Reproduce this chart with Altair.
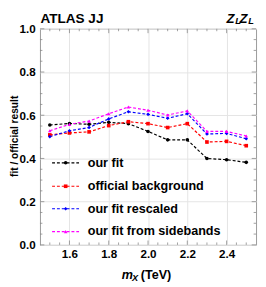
import altair as alt
import pandas as pd

mx = [1.5, 1.6, 1.7, 1.8, 1.9, 2.0, 2.1, 2.2, 2.3, 2.4, 2.5]
our_fit = [0.555, 0.562, 0.558, 0.567, 0.561, 0.525, 0.486, 0.486, 0.400, 0.394, 0.382]
official = [0.509, 0.518, 0.523, 0.552, 0.570, 0.561, 0.543, 0.561, 0.476, 0.479, 0.459]
rescaled = [0.501, 0.528, 0.543, 0.583, 0.616, 0.604, 0.586, 0.607, 0.513, 0.516, 0.491]
sidebands = [0.528, 0.558, 0.573, 0.607, 0.638, 0.623, 0.601, 0.620, 0.525, 0.525, 0.504]

series_names = ["our fit", "official background", "our fit rescaled", "our fit from sidebands"]
series_vals = [our_fit, official, rescaled, sidebands]
colors = ["#000000", "#ff0000", "#0000ff", "#ff00ff"]
shapes = ["circle", "square", "diamond", "triangle-up"]

x_major = [1.6, 1.8, 2.0, 2.2, 2.4]
x_minor = [1.5, 1.55, 1.65, 1.7, 1.75, 1.85, 1.9, 1.95, 2.05, 2.1, 2.15,
           2.25, 2.3, 2.35, 2.45, 2.5]
y_major = [0.0, 0.2, 0.4, 0.6, 0.8, 1.0]
y_minor = [0.05, 0.1, 0.15, 0.25, 0.3, 0.35, 0.45, 0.5, 0.55, 0.65, 0.7, 0.75,
           0.85, 0.9, 0.95]

W, H = 223, 223
FONT = "Liberation Sans"

rows = []
for name, vals in zip(series_names, series_vals):
    for x, v in zip(mx, vals):
        rows.append({"mx": x, "val": v, "series": name})
df = pd.DataFrame(rows)

xscale = alt.Scale(domain=[1.45, 2.55], nice=False, zero=False)
yscale = alt.Scale(domain=[0, 1], nice=False)
cscale = alt.Scale(domain=series_names, range=colors)
sscale = alt.Scale(domain=series_names, range=shapes)

base = alt.Chart(df)
lines = base.mark_line(strokeDash=[3, 2], strokeWidth=1.2).encode(
    x=alt.X("mx:Q", scale=xscale,
            axis=alt.Axis(values=x_major, format=".1f", title=None, grid=True,
                          gridColor="#e4e4e4", ticks=False, domain=False,
                          labelFont=FONT, labelFontWeight="bold", labelFontSize=12,
                          labelColor="black", labelPadding=4)),
    y=alt.Y("val:Q", scale=yscale,
            axis=alt.Axis(values=y_major, format=".1f", title=None, grid=True,
                          gridColor="#e4e4e4", ticks=False, domain=False,
                          labelFont=FONT, labelFontWeight="bold", labelFontSize=12,
                          labelColor="black", labelPadding=5)),
    color=alt.Color("series:N", scale=cscale, legend=None),
    detail="series:N",
)
points = base.mark_point(filled=True, size=14, opacity=1).encode(
    x=alt.X("mx:Q", scale=xscale),
    y=alt.Y("val:Q", scale=yscale),
    color=alt.Color("series:N", scale=cscale, legend=None),
    shape=alt.Shape("series:N", scale=sscale, legend=None),
)

TICK = "#888888"
xt_major = pd.DataFrame({"t": x_major})
xt_minor = pd.DataFrame({"t": x_minor})
yt_major = pd.DataFrame({"t": y_major})
yt_minor = pd.DataFrame({"t": y_minor})

tick_layers = []
for d, ln in [(xt_major, 4.5), (xt_minor, 2.5)]:
    tick_layers.append(alt.Chart(d).mark_rule(color=TICK, strokeWidth=0.8).encode(
        x=alt.X("t:Q", scale=xscale), y=alt.value(H), y2=alt.value(H - ln)))
    tick_layers.append(alt.Chart(d).mark_rule(color=TICK, strokeWidth=0.8).encode(
        x=alt.X("t:Q", scale=xscale), y=alt.value(0), y2=alt.value(ln)))
for d, ln in [(yt_major, 4.5), (yt_minor, 2.5)]:
    tick_layers.append(alt.Chart(d).mark_rule(color=TICK, strokeWidth=0.8).encode(
        y=alt.Y("t:Q", scale=yscale), x=alt.value(0), x2=alt.value(ln)))
    tick_layers.append(alt.Chart(d).mark_rule(color=TICK, strokeWidth=0.8).encode(
        y=alt.Y("t:Q", scale=yscale), x=alt.value(W), x2=alt.value(W - ln)))

one = pd.DataFrame({"k": [0]})

def txt(text, x, y, size, weight="bold", style="normal", align="left", baseline="alphabetic", angle=0):
    kw = dict(text=text, font=FONT, fontSize=size, fontWeight=weight, fontStyle=style,
              align=align, baseline=baseline, color="black")
    if angle:
        kw["angle"] = angle
    return alt.Chart(one).mark_text(**kw).encode(x=alt.value(x), y=alt.value(y))

texts = [
    txt("ATLAS JJ", 0.5, -6.3, 14),
    txt("Z", 192.5, -6.3, 13.5, style="italic"),
    txt("L", 201.5, -4.8, 9.5, style="italic"),
    txt("Z", 206, -6.3, 13.5, style="italic"),
    txt("L", 215, -4.8, 9.5, style="italic"),
    txt("m", 84.5, 258.3, 13, style="italic"),
    txt("X", 95, 260.5, 9.5, style="italic"),
    txt("(TeV)", 104, 258.3, 13),
    txt("fit / official result", -26, 111, 10.5, align="center", baseline="middle", angle=270),
]

legend_layers = []
leg_y = [138.3, 162.5, 185.7, 209.3]
for name, col, shp, ly in zip(series_names, colors, shapes, leg_y):
    legend_layers.append(alt.Chart(one).mark_rule(color=col, strokeDash=[3, 2], strokeWidth=1.2).encode(
        x=alt.value(12.5), x2=alt.value(40.3), y=alt.value(ly)))
    legend_layers.append(alt.Chart(one).mark_point(filled=True, size=14, color=col, shape=shp, opacity=1).encode(
        x=alt.value(26.5), y=alt.value(ly)))
    legend_layers.append(txt(name, 49.3, ly, 13, baseline="middle"))

chart = alt.layer(lines, points, *tick_layers, *texts, *legend_layers).properties(
    width=W, height=H,
    autosize=alt.AutoSizeParams(type="none"),
    padding={"left": 33, "top": 17, "right": 2, "bottom": 39},
).configure_view(stroke="#999999", strokeWidth=1)

chart.save("out.html", embed_options={"renderer": "svg", "actions": False})
